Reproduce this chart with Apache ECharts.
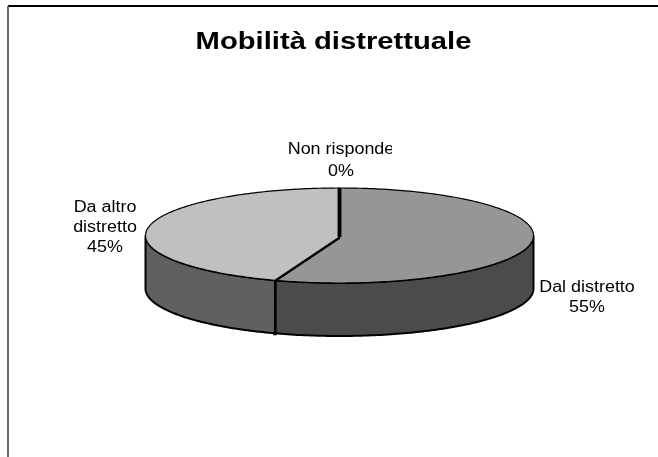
<!DOCTYPE html>
<html>
<head>
<meta charset="utf-8">
<title>Mobilità distrettuale</title>
<style>
  html, body { margin: 0; padding: 0; background: #fff; }
  #chart { width: 658px; height: 457px; }
</style>
</head>
<body>
<div id="chart"></div>
<script src="https://cdn.jsdelivr.net/npm/echarts@6/dist/echarts.min.js"></script>
<script>
const titleText = 'Mobilità distrettuale'
const categories = ['Dal distretto', 'Da altro\ndistretto', 'Non risponde']
const values = [55.4, 44.6, 0]
const topColors = ['#969696', '#c0c0c0', '#ffffff']
const wallColors = ['#4b4b4b', '#606060', '#ffffff']

// pie drawn as a tilted ellipse with a wall underneath
const cx = 339.5, cy = 235.5, rx = 194, ry = 47.5, depth = 53
const hubY = 237
const labelPos = [[587, 278], [105, 198], [341, 138.5]]
const labelLine = [20, 20, 22]
const fontFamily = '"Liberation Sans", Arial, sans-serif'
const stretch = 1.12 // the text in the picture is a bit wider than normal

const total = values.reduce((a, b) => a + b, 0)

function pt(deg, drop) {
  const a = deg * Math.PI / 180
  return [cx + rx * Math.sin(a), cy - ry * Math.cos(a) + (drop || 0)]
}

function arc(from, to, drop) {
  const pts = []
  const steps = Math.max(1, Math.ceil(Math.abs(to - from)))
  for (let i = 0; i <= steps; i++) pts.push(pt(from + (to - from) * i / steps, drop))
  return pts
}

function renderSlice(params) {
  const i = params.dataIndex
  const before = values.slice(0, i).reduce((a, b) => a + b, 0)
  const start = before / total * 360
  const end = (before + values[i]) / total * 360
  const children = []

  // wall, only the front half shows
  const wallFrom = Math.max(start, 90), wallTo = Math.min(end, 270)
  if (wallTo > wallFrom) {
    children.push({
      type: 'polygon',
      shape: { points: arc(wallFrom, wallTo, 0).concat(arc(wallTo, wallFrom, depth)) },
      style: { fill: wallColors[i], stroke: '#000', lineWidth: 2 }
    })
  }

  // top face
  if (end > start) {
    children.push({
      type: 'polygon',
      shape: { points: [[cx, hubY]].concat(arc(start, end, 0)) },
      style: { fill: topColors[i], stroke: '#000', lineWidth: 1.2 }
    })
  }

  // slice border, goes down the wall when it is on the front
  const linePts = [[cx, hubY], pt(end, 0)]
  if (end > 90 && end < 270) linePts.push(pt(end, depth + 2))
  children.push({
    type: 'polyline',
    shape: { points: linePts },
    style: { fill: null, stroke: '#000', lineWidth: 3.5 }
  })

  // label
  const label = {
    type: 'text',
    x: labelPos[i][0],
    y: labelPos[i][1],
    scaleX: stretch,
    style: {
      text: categories[i] + '\n' + Math.round(values[i] / total * 100) + '%',
      x: 0,
      y: 0,
      align: 'center',
      verticalAlign: 'top',
      fontFamily: fontFamily,
      fontSize: 16,
      lineHeight: labelLine[i],
      fill: '#000'
    }
  }
  // "Non risponde" is cut off on the right in the original
  if (i === 2) {
    label.clipPath = { type: 'rect', shape: { x: -60, y: -5, width: 105.5, height: 60 } }
  }
  children.push(label)

  return { type: 'group', children: children }
}

const chart = echarts.init(document.getElementById('chart'))
chart.setOption({
  animation: false,
  backgroundColor: '#fff',
  graphic: [
    { type: 'line', silent: true, shape: { x1: 8, y1: 6, x2: 658, y2: 6 }, style: { stroke: '#000', lineWidth: 2 } },
    { type: 'line', silent: true, shape: { x1: 8, y1: 6, x2: 8, y2: 457 }, style: { stroke: '#666', lineWidth: 2 } },
    {
      type: 'text',
      silent: true,
      x: 333.5,
      y: 31.5,
      scaleX: 1.27,
      style: {
        text: titleText,
        x: 0,
        y: 0,
        align: 'center',
        verticalAlign: 'top',
        fontFamily: fontFamily,
        fontWeight: 'bold',
        fontSize: 23,
        fill: '#000'
      }
    }
  ],
  series: [{
    type: 'custom',
    coordinateSystem: 'none',
    silent: true,
    renderItem: renderSlice,
    data: categories.map((name, i) => ({ name: name, value: values[i] }))
  }]
})
</script>
</body>
</html>
